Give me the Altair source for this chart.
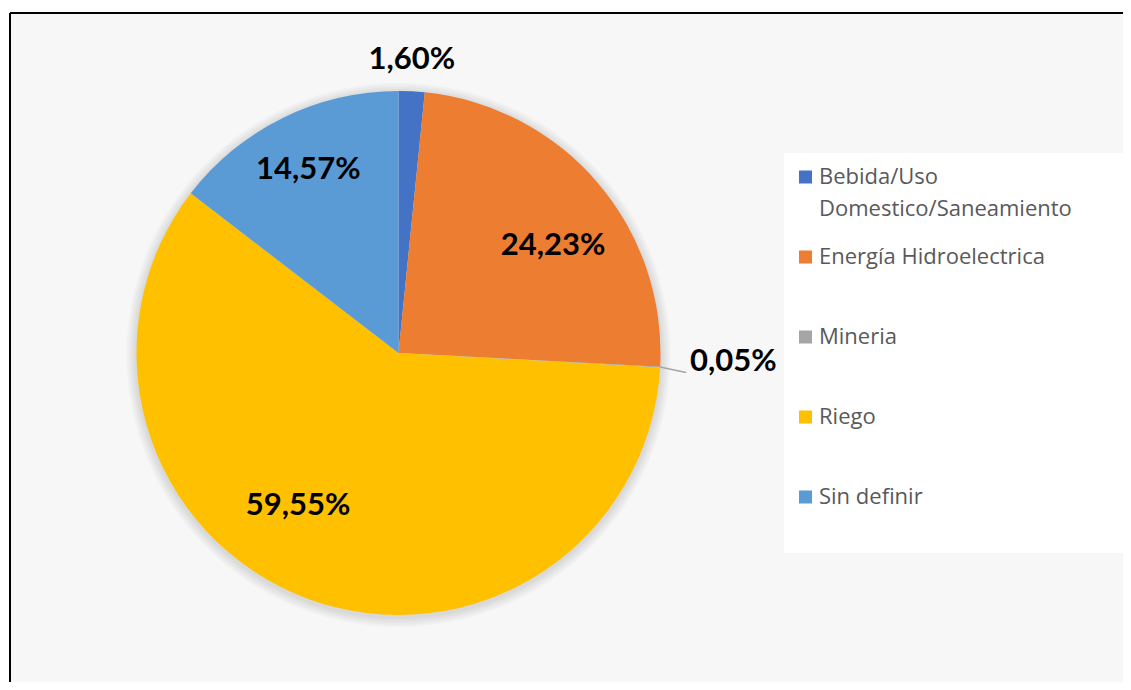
import math
import altair as alt
import pandas as pd

# ---- data -------------------------------------------------------------
categories = ["Bebida/Uso Domestico/Saneamiento", "Energía Hidroelectrica",
              "Mineria", "Riego", "Sin definir"]
legend_labels = ["Bebida/Uso\nDomestico/Saneamiento", "Energía Hidroelectrica",
                 "Mineria", "Riego", "Sin definir"]
values = [1.60, 24.23, 0.05, 59.55, 14.57]
value_labels = ["1,60%", "24,23%", "0,05%", "59,55%", "14,57%"]
colors = ["#4472C4", "#ED7D31", "#A5A5A5", "#FFC000", "#5B9BD5"]

df = pd.DataFrame({
    "cat": categories,
    "legend": legend_labels,
    "value": values,
    "label": value_labels,
    "order": list(range(len(categories))),
})
one = pd.DataFrame({"d": [0]})

# ---- layout -----------------------------------------------------------
W, H = 1113, 669
CX, CY, R = 388.5, 340, 262

theta_scale = alt.Scale(domain=[0, 100], range=[0, 2 * math.pi])
color_scale = alt.Scale(domain=categories, range=colors)

base = alt.Chart(df).transform_stack(
    stack="value", groupby=[], as_=["v0", "v1"], sort=[alt.SortField("order")]
).transform_calculate(mid="(datum.v0 + datum.v1) / 2")

# soft shadow behind the pie
shadows = [
    alt.Chart(one).mark_arc(outerRadius=R + k, theta=0, theta2=2 * math.pi,
                            color="#000000", opacity=0.025)
    .encode(x=alt.value(CX), y=alt.value(CY + 2))
    for k in (2, 4, 6, 8, 10)
]

pie = base.mark_arc(outerRadius=R).encode(
    theta=alt.Theta("v0:Q", scale=theta_scale, stack=None),
    theta2="v1:Q",
    color=alt.Color("cat:N", scale=color_scale, legend=None),
    x=alt.value(CX),
    y=alt.value(CY),
)


def label_layer(cat, radius, offset):
    return base.transform_filter(alt.datum.cat == cat).mark_text(
        radius=radius, thetaOffset=offset, font="Lato", fontWeight="bold",
        fontSize=31, color="#000000", baseline="middle", align="center",
    ).encode(
        theta=alt.Theta("mid:Q", scale=theta_scale, stack=None),
        text="label:N",
        x=alt.value(CX),
        y=alt.value(CY),
    )


labels = [
    label_layer(categories[0], 293, -0.005),
    label_layer(categories[1], 188, 0.103),
    label_layer(categories[2], 335, -0.028),
    label_layer(categories[3], 183, 0.226),
    label_layer(categories[4], 204, 0.0),
]

leader = base.transform_filter(alt.datum.cat == "Mineria").transform_calculate(
    a="datum.mid / 100 * 2 * PI",
).transform_calculate(
    lx1=f"{CX} + {R} * sin(datum.a)",
    ly1=f"{CY} - {R} * cos(datum.a)",
    lx2=f"{CX} + {R + 26} * sin(datum.a)",
    ly2=f"{CY} - {R + 26} * cos(datum.a) + 4",
).mark_rule(color="#A5A5A5", strokeWidth=1.5).encode(
    x=alt.X("lx1:Q", scale=None),
    y=alt.Y("ly1:Q", scale=None),
    x2="lx2:Q",
    y2="ly2:Q",
)

# legend
legend_bg = alt.Chart(one).mark_rect(color="#FFFFFF").encode(
    x=alt.value(774), x2=alt.value(W), y=alt.value(140), y2=alt.value(540)
)
legend_y = alt.Y("cat:N", scale=alt.Scale(type="point", domain=categories,
                                          range=[164, 484], padding=0), axis=None)
leg_sym = alt.Chart(df).mark_point(shape="square", filled=True, size=169, opacity=1).encode(
    x=alt.value(795.5),
    y=legend_y,
    color=alt.Color("cat:N", scale=color_scale, legend=None),
)
leg_txt = alt.Chart(df).mark_text(
    align="left", baseline="alphabetic", dy=7, font="Open Sans", fontSize=22,
    color="#595959", lineBreak="\n", lineHeight=32,
).encode(x=alt.value(809), y=legend_y, text="legend:N")

# frame (left and top edges visible)
frame_left = alt.Chart(one).mark_rule(color="#000000", strokeWidth=2).encode(
    x=alt.value(0), y=alt.value(0), y2=alt.value(H)
)
frame_top = alt.Chart(one).mark_rule(color="#000000", strokeWidth=2).encode(
    x=alt.value(0), x2=alt.value(W), y=alt.value(0)
)

chart = alt.layer(
    *shadows, pie, leader, *labels, legend_bg, leg_sym, leg_txt, frame_left, frame_top
).resolve_scale(
    y="independent", x="independent"
).properties(
    width=W, height=H,
    padding={"left": 2, "top": 5, "right": 0, "bottom": 0},
    autosize=alt.AutoSizeParams(type="none"),
    background="#FFFFFF",
).configure_view(
    strokeWidth=0, fill="#F7F7F7"
)

chart.save("out.html", embed_options={"renderer": "svg", "actions": False})
